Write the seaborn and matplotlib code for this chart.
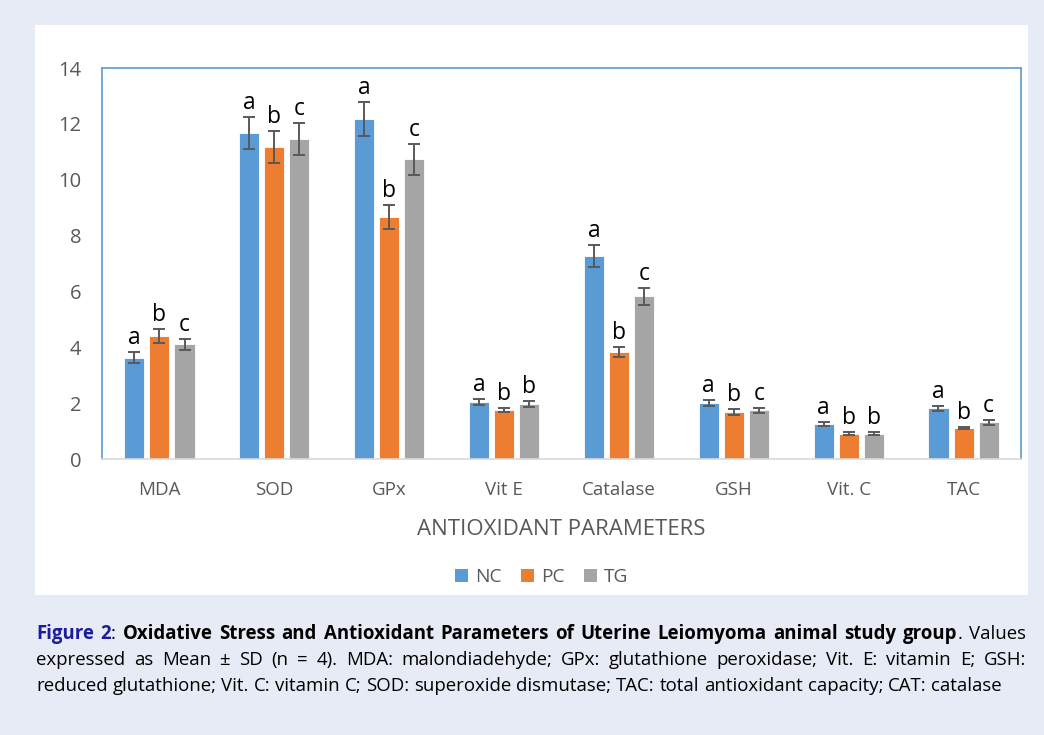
import matplotlib
matplotlib.use("Agg")
import matplotlib.pyplot as plt
import matplotlib.patches as mpatches
import numpy as np
import pandas as pd
import seaborn as sns

# ---- data -------------------------------------------------------------
parameters = ["MDA", "SOD", "GPx", "Vit E", "Catalase", "GSH", "Vit. C", "TAC"]
groups = ["NC", "PC", "TG"]
nc_mean = [3.62, 11.68, 12.16, 2.04, 7.27, 2.00, 1.26, 1.81]
pc_mean = [4.41, 11.16, 8.66, 1.75, 3.83, 1.68, 0.91, 1.11]
tg_mean = [4.10, 11.45, 10.73, 1.97, 5.82, 1.74, 0.91, 1.32]
nc_sd = [0.20, 0.57, 0.61, 0.11, 0.38, 0.12, 0.07, 0.08]
pc_sd = [0.24, 0.57, 0.44, 0.08, 0.19, 0.10, 0.05, 0.05]
tg_sd = [0.21, 0.58, 0.55, 0.12, 0.29, 0.08, 0.05, 0.09]
nc_sig = ["a", "a", "a", "a", "a", "a", "a", "a"]
pc_sig = ["b", "b", "b", "b", "b", "b", "b", "b"]
tg_sig = ["c", "c", "c", "b", "c", "c", "b", "c"]
y_ticks = [0, 2, 4, 6, 8, 10, 12, 14]

colors = {"NC": "#5b9bd5", "PC": "#ed7d31", "TG": "#a5a5a5"}

means = {"NC": nc_mean, "PC": pc_mean, "TG": tg_mean}
sds = {"NC": nc_sd, "PC": pc_sd, "TG": tg_sd}
sigs = {"NC": nc_sig, "PC": pc_sig, "TG": tg_sig}

df = pd.DataFrame([
    {"Parameter": p, "Group": g, "Value": means[g][i]}
    for g in groups for i, p in enumerate(parameters)
])

# ---- figure -----------------------------------------------------------
sns.set_theme(style="white")
chart_font = ["Open Sans", "DejaVu Sans"]
plt.rcParams["font.family"] = chart_font

W, H = 1044, 735
fig = plt.figure(figsize=(W / 100, H / 100), dpi=100)
fig.patch.set_facecolor("#e7ebf6")

# white chart panel
fig.add_artist(mpatches.Rectangle((35 / W, 1 - 595 / H), 993 / W, 570 / H,
                                  transform=fig.transFigure, facecolor="white",
                                  edgecolor="none", zorder=0))

ax = fig.add_axes([102 / W, 1 - 459 / H, 919 / W, 391 / H])
ax.set_facecolor("white")

sns.barplot(data=df, x="Parameter", y="Value", hue="Group", order=parameters,
            hue_order=groups, palette=colors, saturation=1, width=0.655, gap=0.2,
            edgecolor="white", linewidth=0.6, errorbar=None, ax=ax,
            legend=False, zorder=2)

for g, container in zip(groups, ax.containers):
    for i, bar in enumerate(container):
        xc = bar.get_x() + bar.get_width() / 2
        m = means[g][i]
        s = sds[g][i]
        ax.errorbar(xc, m, yerr=s, fmt="none", ecolor="#595959",
                    elinewidth=1.4, capsize=4, capthick=1.4, zorder=3)
        ax.annotate(sigs[g][i], (xc, m + s), xytext=(0, 1.5),
                    textcoords="offset points", ha="center", va="bottom",
                    fontsize=16.5, color="black")

ax.set_ylim(0, 14)
ax.set_yticks(y_ticks)
ax.set_xlim(-0.5, len(parameters) - 0.5)
ax.tick_params(axis="y", length=0, pad=15, labelsize=14.5, labelcolor="#595959")
ax.tick_params(axis="x", length=0, pad=16, labelsize=13.5, labelcolor="#595959")
ax.set_xlabel("ANTIOXIDANT PARAMETERS", fontsize=16, color="#595959", labelpad=14)
ax.set_ylabel("")

for side in ["top", "left", "right"]:
    ax.spines[side].set_color("#5b9bd5")
    ax.spines[side].set_linewidth(1.2)
ax.spines["bottom"].set_color("#d9d9d9")
ax.spines["bottom"].set_linewidth(1.2)

handles = [mpatches.Patch(facecolor=colors[g], edgecolor="none", label=g) for g in groups]
fig.legend(handles=handles, loc="center", bbox_to_anchor=(542 / W, 1 - 577 / H),
           ncol=3, frameon=False, fontsize=13.8, handlelength=0.65,
           handleheight=0.65, handletextpad=0.4, columnspacing=1.0,
           labelcolor="#595959")

# ---- caption (justified, mixed styles) --------------------------------
cap_font = ["Open Sans", "DejaVu Sans"]
cap_size = 13.4
blue = "#1c1c9c"
caption_lines = [
    [("Figure 2", "bold", blue), (":", "normal", "black"),
     (" Oxidative Stress and Antioxidant Parameters of Uterine Leiomyoma animal study group", "bold", "black"),
     (".  Values", "normal", "black")],
    [("expressed as Mean \u00b1 SD (n = 4).  MDA: malondiadehyde; GPx:  glutathione peroxidase; Vit.  E: vitamin E; GSH:",
      "normal", "black")],
    [("reduced glutathione; Vit. C: vitamin C; SOD: superoxide dismutase; TAC: total antioxidant capacity; CAT: catalase",
      "normal", "black")],
]
justify = [True, True, False]
line_y = [634, 660, 686]
x_left, x_right = 36, 1026

renderer = fig.canvas.get_renderer()


def measure(txt, weight):
    t = fig.text(0, 0, txt, fontsize=cap_size, fontweight=weight, family=cap_font)
    w = t.get_window_extent(renderer).width
    t.remove()
    return w


for segs, just, yy in zip(caption_lines, justify, line_y):
    tokens = []
    for txt, weight, col in segs:
        parts = txt.split(" ")
        for k, p in enumerate(parts):
            if p == "":
                continue
            glue = (k == 0 and not txt.startswith(" ") and len(tokens) > 0)
            tokens.append([p, weight, col, glue])
    widths = [measure(t[0], t[1]) for t in tokens]
    space_w = measure("a a", "normal") - measure("aa", "normal")
    n_gaps = sum(1 for t in tokens[1:] if not t[3])
    total = sum(widths)
    if just and n_gaps > 0:
        gap = (x_right - x_left - total) / n_gaps
    else:
        gap = space_w
    x = x_left
    for (p, weight, col, glue), w in zip(tokens, widths):
        if x != x_left and not glue:
            x += gap
        fig.text(x / W, 1 - yy / H, p, fontsize=cap_size, fontweight=weight,
                 color=col, family=cap_font, va="center", ha="left")
        x += w

fig.savefig("out.png", dpi=100, facecolor=fig.get_facecolor())
